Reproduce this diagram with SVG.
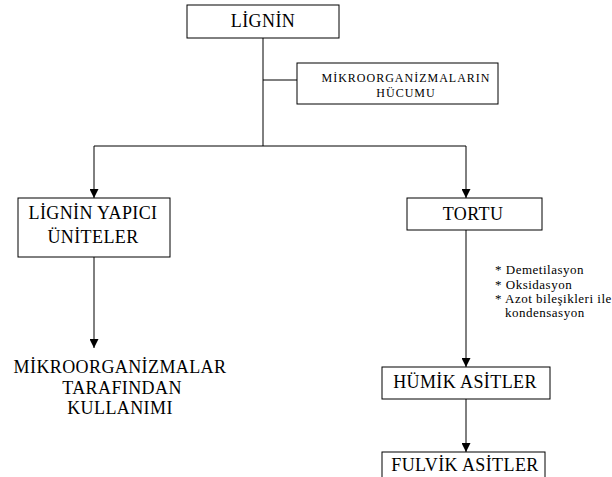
<svg xmlns="http://www.w3.org/2000/svg" width="612" height="477" viewBox="0 0 612 477">
<style>
.box{fill:#fff;stroke:#000;stroke-width:1}
.ln{stroke:#000;stroke-width:1;fill:none}
text{font-family:'Liberation Serif','Times New Roman',serif;font-weight:normal;fill:#000}
.t{text-anchor:middle}
.big{font-size:18px;letter-spacing:0.4px}
.sm{font-size:12px;letter-spacing:1px}
.note{font-size:13px;letter-spacing:0.5px}
</style>
<defs>
<marker id="ah" viewBox="0 0 10 10" refX="10" refY="5" markerWidth="10" markerHeight="9" markerUnits="userSpaceOnUse" orient="auto">
<path d="M0,0 L10,5 L0,10 Z" fill="#000"/>
</marker>
</defs>
<g id="connectors">
<line class="ln" x1="263" y1="38" x2="263" y2="146"/>
<line class="ln" x1="263" y1="80" x2="297" y2="80"/>
<line class="ln" x1="94" y1="146" x2="466" y2="146"/>
<line class="ln" x1="94" y1="146" x2="94" y2="198" marker-end="url(#ah)"/>
<line class="ln" x1="466" y1="146" x2="466" y2="198" marker-end="url(#ah)"/>
<line class="ln" x1="94" y1="257" x2="94" y2="348" marker-end="url(#ah)"/>
<line class="ln" x1="466" y1="230" x2="466" y2="367" marker-end="url(#ah)"/>
<line class="ln" x1="466" y1="399" x2="466" y2="452" marker-end="url(#ah)"/>
</g>
<g id="lignin">
<rect class="box" x="187" y="5" width="152" height="33"/>
<text class="t big" x="263" y="27">LİGNİN</text>
</g>
<g id="hucum">
<rect class="box" x="297" y="63" width="201" height="41"/>
<text class="t sm" x="406" y="82">MİKROORGANİZMALARIN</text>
<text class="t sm" x="406" y="97">HÜCUMU</text>
</g>
<g id="yapici">
<rect class="box" x="18" y="198" width="152" height="59"/>
<text class="t big" x="93" y="219">LİGNİN YAPICI</text>
<text class="t big" x="93" y="243">ÜNİTELER</text>
</g>
<g id="tortu">
<rect class="box" x="407" y="198" width="135" height="32"/>
<text class="t big" x="473" y="220">TORTU</text>
</g>
<g id="notes">
<text class="note" x="495" y="274">* Demetilasyon</text>
<text class="note" x="495" y="289">* Oksidasyon</text>
<text class="note" x="495" y="303">* Azot bileşikleri ile</text>
<text class="note" x="505" y="317">kondensasyon</text>
</g>
<g id="kullanim">
<text class="t big" x="120" y="373">MİKROORGANİZMALAR</text>
<text class="t big" x="122" y="394">TARAFINDAN</text>
<text class="t big" x="120" y="414">KULLANIMI</text>
</g>
<g id="humik">
<rect class="box" x="382" y="367" width="168" height="32"/>
<text class="t big" x="465" y="388">HÜMİK ASİTLER</text>
</g>
<g id="fulvik">
<rect class="box" x="382" y="452" width="163" height="30"/>
<text class="t big" x="465" y="471">FULVİK ASİTLER</text>
</g>
</svg>
